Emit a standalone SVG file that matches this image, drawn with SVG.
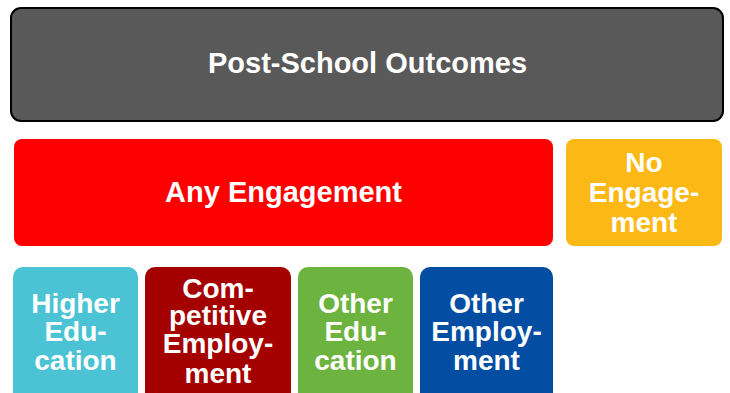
<svg xmlns="http://www.w3.org/2000/svg" width="730" height="393" viewBox="0 0 730 393">
<style>
.t{font-family:"Liberation Sans",Arial,sans-serif;font-weight:bold;fill:#fff;text-anchor:middle;font-size:28px}
.big{font-size:29px}
.mid{font-size:29px}
</style>
<rect width="730" height="393" fill="#fff"/>
<g id="post-school">
<rect x="11" y="8" width="712" height="113" rx="10" fill="#595959" stroke="#000" stroke-width="2"/>
<text class="t big" x="367.5" y="73">Post-School Outcomes</text>
</g>
<g id="any-engagement">
<rect x="14" y="139" width="539" height="107" rx="8" fill="#ff0000"/>
<text class="t mid" x="283.5" y="202">Any Engagement</text>
</g>
<g id="no-engagement">
<rect x="566" y="139" width="156" height="107" rx="8" fill="#fcb916"/>
<text class="t" x="644" y="172">No</text>
<text class="t" x="644" y="202">Engage-</text>
<text class="t" x="644" y="232">ment</text>
</g>
<g id="higher-education">
<rect x="13" y="267" width="125" height="140" rx="10" fill="#4bc3d4"/>
<text class="t" x="75.5" y="313">Higher</text>
<text class="t" x="75.5" y="341">Edu-</text>
<text class="t" x="75.5" y="370">cation</text>
</g>
<g id="competitive-employment">
<rect x="145" y="267" width="146" height="140" rx="10" fill="#a50000"/>
<text class="t" x="218" y="298">Com-</text>
<text class="t" x="218" y="325">petitive</text>
<text class="t" x="218" y="353">Employ-</text>
<text class="t" x="218" y="383">ment</text>
</g>
<g id="other-education">
<rect x="298" y="267" width="115" height="140" rx="10" fill="#6db33f"/>
<text class="t" x="355.5" y="313">Other</text>
<text class="t" x="355.5" y="341">Edu-</text>
<text class="t" x="355.5" y="370">cation</text>
</g>
<g id="other-employment">
<rect x="420" y="267" width="133" height="140" rx="10" fill="#034ea2"/>
<text class="t" x="486.5" y="313">Other</text>
<text class="t" x="486.5" y="341">Employ-</text>
<text class="t" x="486.5" y="370">ment</text>
</g>
<g id="connectors"></g>
</svg>
